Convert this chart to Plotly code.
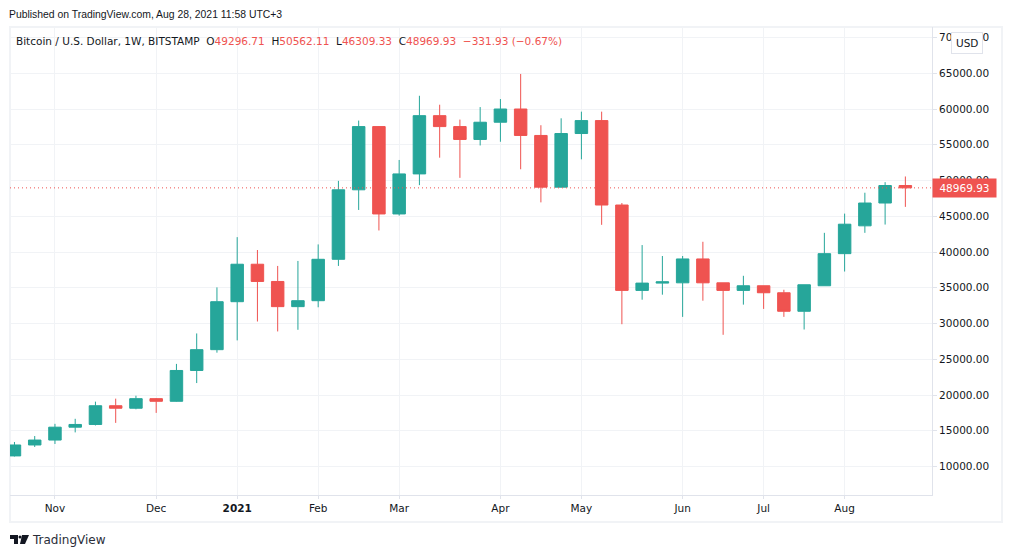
import pandas as pd
import plotly.graph_objects as go

# weekly candles
weeks = pd.date_range("2020-10-19", periods=45, freq="7D")

opens = [11480, 13010, 13700, 15500, 15880, 18500, 18150, 19490, 19120, 23430, 26340, 33050,
         38290, 35880, 32360, 33190, 38980, 48700, 57540, 45320, 50920, 59070, 57540, 55740,
         58150, 60000, 56300, 49070, 56570, 58380, 46570, 34630, 35650, 35690, 39030, 35690,
         34630, 35280, 34300, 31710, 35280, 39770, 43660, 46850, 49296.71]
highs = [13430, 14260, 15970, 16670, 19070, 19490, 19900, 19580, 24350, 28610, 35050, 42080,
         40280, 38050, 38750, 41060, 49950, 58380, 57600, 52870, 61850, 60600, 58520, 60270,
         61390, 64900, 57730, 58700, 59630, 59630, 46850, 40970, 39440, 39440, 41430, 35690,
         36670, 35280, 34720, 35420, 42680, 45370, 48290, 49770, 50562.11]
lows = [11400, 12730, 13150, 14770, 15740, 16100, 18000, 17500, 19070, 21670, 25920, 27640,
        30280, 28890, 29120, 32270, 38050, 45880, 43010, 45090, 49350, 53190, 50370, 54900,
        55420, 51570, 46940, 49030, 52960, 43800, 29900, 33330, 34030, 30925, 33190, 28420,
        32640, 32040, 30930, 29160, 35280, 37270, 42680, 43840, 46309.33]
closes = [13010, 13700, 15500, 15880, 18500, 18150, 19490, 19120, 23430, 26340, 33050, 38290,
          35880, 32360, 33190, 38980, 48700, 57540, 45320, 50920, 59070, 57540, 55740, 58150,
          60000, 56300, 49070, 56570, 58380, 46570, 34630, 35650, 35830, 39030, 35690, 34630,
          35280, 34300, 31710, 35420, 39770, 43890, 46850, 49300, 48969.93]

month_ticks = ["2020-11-02", "2020-12-07", "2021-01-04", "2021-02-01", "2021-03-01",
               "2021-04-05", "2021-05-03", "2021-06-07", "2021-07-05", "2021-08-02"]
month_labels = ["Nov", "Dec", "<b>2021</b>", "Feb", "Mar", "Apr", "May", "Jun", "Jul", "Aug"]
price_ticks = [10000, 15000, 20000, 25000, 30000, 35000, 40000, 45000, 50000, 55000, 60000, 65000, 70000]

GREEN = "#26a69a"
RED = "#ef5350"
GRID = "#f1f3f6"
BORDER = "#e0e3eb"
TEXT = "#131722"
FONT = "DejaVu Sans"

# plot box in the page, in pixels
LEFT, RIGHT, TOP, BOTTOM = 10, 932, 27, 495


def pagex(px):
    return (px - LEFT) / (RIGHT - LEFT)


def pagey(py):
    return (BOTTOM - py) / (BOTTOM - TOP)


def label(text, px, py, size=10.5, color=TEXT, anchor="left", family=FONT, **kw):
    fig.add_annotation(text=text, x=pagex(px), y=pagey(py), xref="paper", yref="paper",
                       xanchor=anchor, yanchor="middle", showarrow=False,
                       font=dict(family=family, size=size, color=color), **kw)


def logo_shape(points, color=TEXT):
    path = "M " + " L ".join(f"{pagex(a):.5f},{pagey(b):.5f}" for a, b in points) + " Z"
    fig.add_shape(type="path", path=path, xref="paper", yref="paper",
                  fillcolor=color, line=dict(width=0))


fig = go.Figure()
fig.add_trace(go.Candlestick(x=weeks, open=opens, high=highs, low=lows, close=closes,
                             increasing=dict(line=dict(color=GREEN, width=1), fillcolor=GREEN),
                             decreasing=dict(line=dict(color=RED, width=1), fillcolor=RED),
                             whiskerwidth=0, showlegend=False))

fig.update_layout(width=1012, height=558, autosize=False,
                  margin=dict(l=LEFT, r=1012 - RIGHT, t=TOP, b=558 - BOTTOM, pad=0),
                  paper_bgcolor="white", plot_bgcolor="white",
                  font=dict(family=FONT, size=10.5, color=TEXT),
                  hovermode=False, boxgap=0.12)
fig.update_xaxes(range=["2020-10-17 11:00", "2021-09-01 05:00"], rangeslider_visible=False,
                 tickmode="array", tickvals=month_ticks, ticktext=month_labels,
                 showgrid=True, gridcolor=GRID, gridwidth=1, zeroline=False,
                 ticks="outside", ticklen=3, tickcolor=BORDER,
                 showline=True, linecolor=BORDER, linewidth=1, tickangle=0)
fig.update_yaxes(range=[6014, 71469], side="right", tickmode="array", tickvals=price_ticks,
                 ticktext=[f"{p}.00" for p in price_ticks],
                 showgrid=True, gridcolor=GRID, gridwidth=1, zeroline=False,
                 ticks="outside", ticklen=4, tickcolor=BORDER,
                 showline=True, linecolor=BORDER, linewidth=1)

# outer frame around the chart and axes
fig.add_shape(type="rect", xref="paper", yref="paper", x0=0, x1=pagex(1002),
              y0=pagey(522), y1=pagey(27), line=dict(color=GRID, width=2), layer="below")

# last price line
fig.add_shape(type="line", xref="paper", yref="y", x0=0, x1=1, y0=closes[-1], y1=closes[-1],
              line=dict(color=RED, width=1, dash="1px,3px"))

label("Published on TradingView.com, Aug 28, 2021 11:58 UTC+3", 7, 14, size=10.4, family="Liberation Sans")
red = lambda s: f'<span style="color:{RED}">{s}</span>'
header = ("Bitcoin / U.S. Dollar, 1W, BITSTAMP&nbsp;&nbsp;"
          f"O{red(f'{opens[-1]:.2f}')}&nbsp;&nbsp;H{red(f'{highs[-1]:.2f}')}&nbsp;&nbsp;"
          f"L{red(f'{lows[-1]:.2f}')}&nbsp;&nbsp;C{red(f'{closes[-1]:.2f}')}&nbsp;&nbsp;"
          + red("−331.93 (−0.67%)"))
label(header, 14, 41)

# price tag and currency button sit on top of the axis labels
fig.add_annotation(text=f"{closes[-1]:.2f}", x=pagex(RIGHT), y=closes[-1], xref="paper", yref="y",
                   xanchor="left", yanchor="middle", showarrow=False, bgcolor=RED, borderpad=3,
                   font=dict(family=FONT, size=10.5, color="white"), width=57)
label("USD", 967, 43, anchor="center", bgcolor="white", bordercolor=BORDER, borderwidth=1, borderpad=4)

# logo
logo_shape([(10, 535), (18, 535), (18, 544), (14, 544), (14, 539), (10, 539)])
logo_shape([(22, 535), (29, 535), (25, 544), (20, 544)])
fig.add_shape(type="circle", xref="paper", yref="paper", x0=pagex(18.5), x1=pagex(21.5),
              y0=pagey(538.5), y1=pagey(535.5), fillcolor=TEXT, line=dict(width=0))
label("TradingView", 30, 540, size=12, color="#2a2e39")

fig.write_html("out.html", config={"displayModeBar": False},
               post_script="document.body.style.margin='0';")
